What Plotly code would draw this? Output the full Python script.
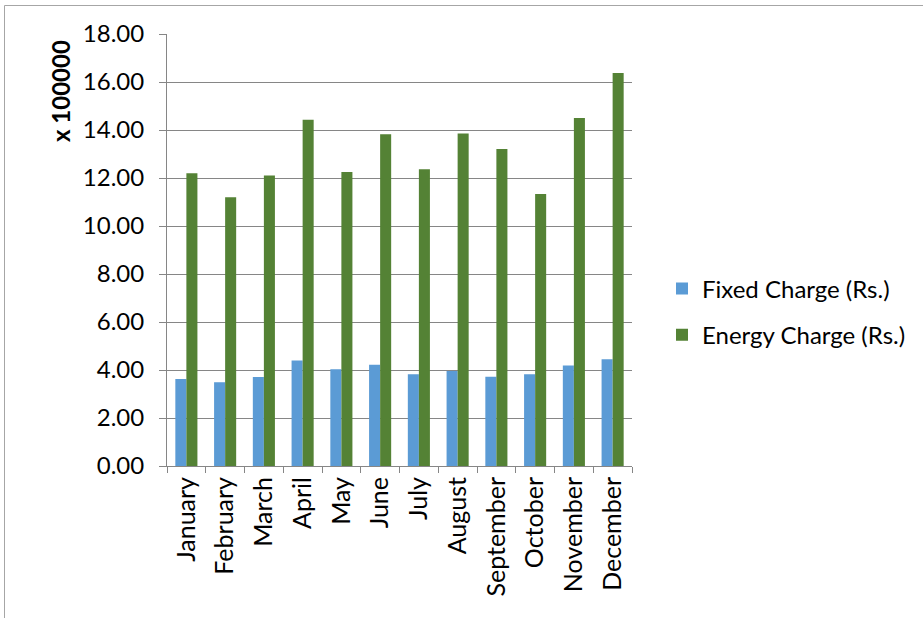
import plotly.graph_objects as go

months = ["January", "February", "March", "April", "May", "June", "July",
          "August", "September", "October", "November", "December"]
fixed_charge = [3.63, 3.49, 3.71, 4.40, 4.03, 4.22, 3.82, 3.96, 3.72, 3.82, 4.19, 4.45]
energy_charge = [12.20, 11.20, 12.10, 14.43, 12.25, 13.82, 12.36, 13.85, 13.21, 11.33, 14.50, 16.38]
y_ticks = [0, 2, 4, 6, 8, 10, 12, 14, 16, 18]

W, H = 923, 618
L, R, T, B = 167, 291, 34, 152
pw, ph = W - L - R, H - T - B

FONT = "Lato, 'Open Sans', sans-serif"

fig = go.Figure()
fig.add_trace(go.Bar(x=months, y=fixed_charge, name="Fixed Charge (Rs.)", legendgroup="a",
                     marker=dict(color="#5B9BD5", line=dict(width=0))))
fig.add_trace(go.Bar(x=months, y=energy_charge, name="Energy Charge (Rs.)", legendgroup="b",
                     marker=dict(color="#548235", line=dict(width=0))))

def px_x(p):
    return (p - L) / pw

def px_y(p):
    return (H - B - p) / ph

# outer chart frame (top and left edges visible)
fig.add_shape(type="path", xref="paper", yref="paper",
              path=f"M {px_x(4.5)} {px_y(700)} L {px_x(4.5)} {px_y(5.5)} L {px_x(1000)} {px_y(5.5)}",
              line=dict(color="#a6a6a6", width=1))

# axis title placed near the top of the value axis
fig.add_annotation(text="<b>x 100000</b>", xref="paper", yref="paper",
                   x=px_x(60), y=px_y(38), xanchor="center", yanchor="top",
                   textangle=-90, showarrow=False,
                   font=dict(family=FONT, size=24, color="#000000"))

fig.update_layout(
    width=W, height=H,
    margin=dict(l=L, r=R, t=T, b=B),
    paper_bgcolor="white", plot_bgcolor="white",
    barmode="group", bargap=0.43, bargroupgap=0,
    font=dict(family=FONT, size=24, color="#000000"),
    legend=dict(x=px_x(662), y=px_y(312), xanchor="left", yanchor="middle",
                font=dict(family=FONT, size=24, color="#000000"),
                traceorder="grouped", tracegroupgap=12, itemsizing="constant"),
    xaxis=dict(showgrid=False, showline=True, linecolor="#868686", linewidth=1,
               ticks="outside", tickson="boundaries", ticklen=6, tickcolor="#868686",
               tickangle=-90, tickfont=dict(family=FONT, size=25, color="#000000"),
               fixedrange=True),
    yaxis=dict(range=[0, 18], tickvals=y_ticks, tickformat=".2f",
               showgrid=True, gridcolor="#868686", gridwidth=1,
               showline=True, linecolor="#868686", linewidth=1,
               ticks="outside", ticklen=7, tickcolor="#868686",
               ticklabelstandoff=10,
               tickfont=dict(family=FONT, size=24, color="#000000"),
               zeroline=False, fixedrange=True),
)

fig.write_html("out.html")
